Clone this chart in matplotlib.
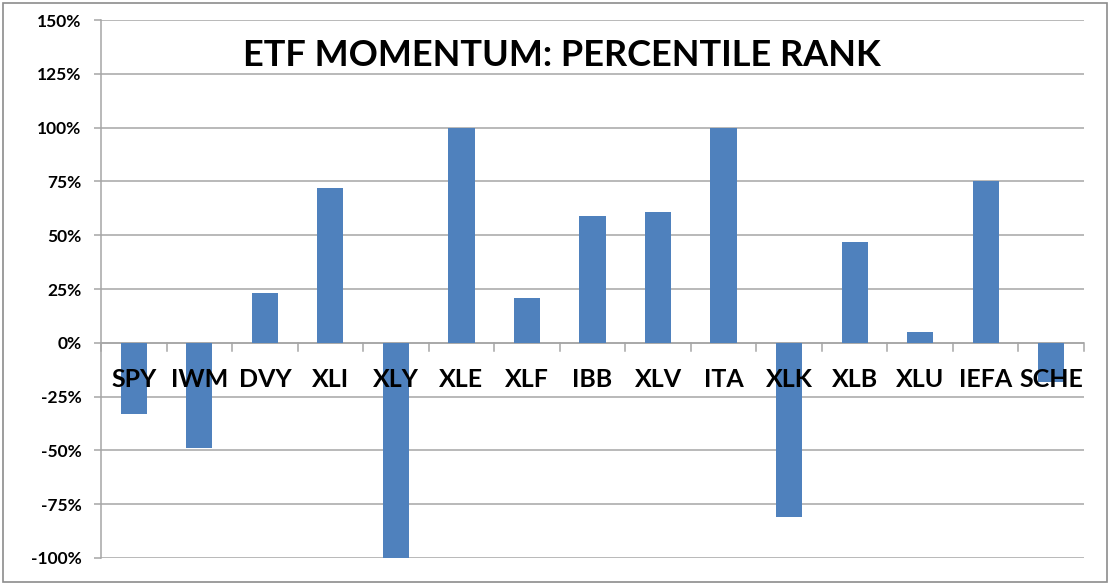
import matplotlib
matplotlib.use("Agg")
import matplotlib.pyplot as plt
from matplotlib.patches import Rectangle
import numpy as np

_W, _H = 1109, 585
_DPI = 100
_BAR_COLOR = "#4F81BD"
_GRID_COLOR = "#A6A6A6"
_FONT = ["Lato", "DejaVu Sans"]

tickers = ["SPY", "IWM", "DVY", "XLI", "XLY", "XLE", "XLF", "IBB",
           "XLV", "ITA", "XLK", "XLB", "XLU", "IEFA", "SCHE"]
rank_pct = [-33, -49, 23, 72, -100, 100, 21, 59, 61, 100, -81, 47, 5, 75, -18]
y_ticks = [-100, -75, -50, -25, 0, 25, 50, 75, 100, 125, 150]

plt.rcParams["font.family"] = _FONT

fig = plt.figure(figsize=(_W / _DPI, _H / _DPI), dpi=_DPI)
# outer chart frame
fig.patches.append(Rectangle((3 / _W, 3 / _H), 1104 / _W, 579 / _H,
                             transform=fig.transFigure, fill=False,
                             edgecolor="#8C8C8C", linewidth=1.2))

ax = fig.add_axes([101 / _W, 1 - 558 / _H, 983 / _W, 538 / _H])
x = np.arange(len(tickers))
ax.bar(x, rank_pct, width=0.4, color=_BAR_COLOR, zorder=3)

ax.set_xlim(-0.5, len(tickers) - 0.5)
ax.set_ylim(-100, 150)
ax.set_yticks(y_ticks)
ax.set_yticklabels([f"{v}%" for v in y_ticks], fontsize=12.5, fontweight="bold")
ax.yaxis.grid(True, color=_GRID_COLOR, linewidth=1.1, zorder=0)
ax.tick_params(axis="y", length=5, width=1.1, color=_GRID_COLOR, pad=9)

for side in ("top", "right", "bottom"):
    ax.spines[side].set_visible(False)
ax.spines["left"].set_color(_GRID_COLOR)
ax.spines["left"].set_linewidth(1.1)

# zero axis with category boundary ticks
ax.axhline(0, color=_GRID_COLOR, linewidth=1.1, zorder=2)
ax.set_xticks([])
for b in np.arange(-0.5, len(tickers), 1.0):
    ax.plot([b, b], [0, -3.7], color=_GRID_COLOR, linewidth=1.1, zorder=2,
            clip_on=False)

for xi, name in zip(x, tickers):
    ax.text(xi, -17, name, ha="center", va="center", fontsize=18,
            fontweight="bold", zorder=4)

fig.text(562 / _W, 1 - 55 / _H, "ETF MOMENTUM: PERCENTILE RANK",
         ha="center", va="center", fontsize=26, fontweight="bold")

fig.savefig("out.png", dpi=_DPI)
plt.close(fig)
